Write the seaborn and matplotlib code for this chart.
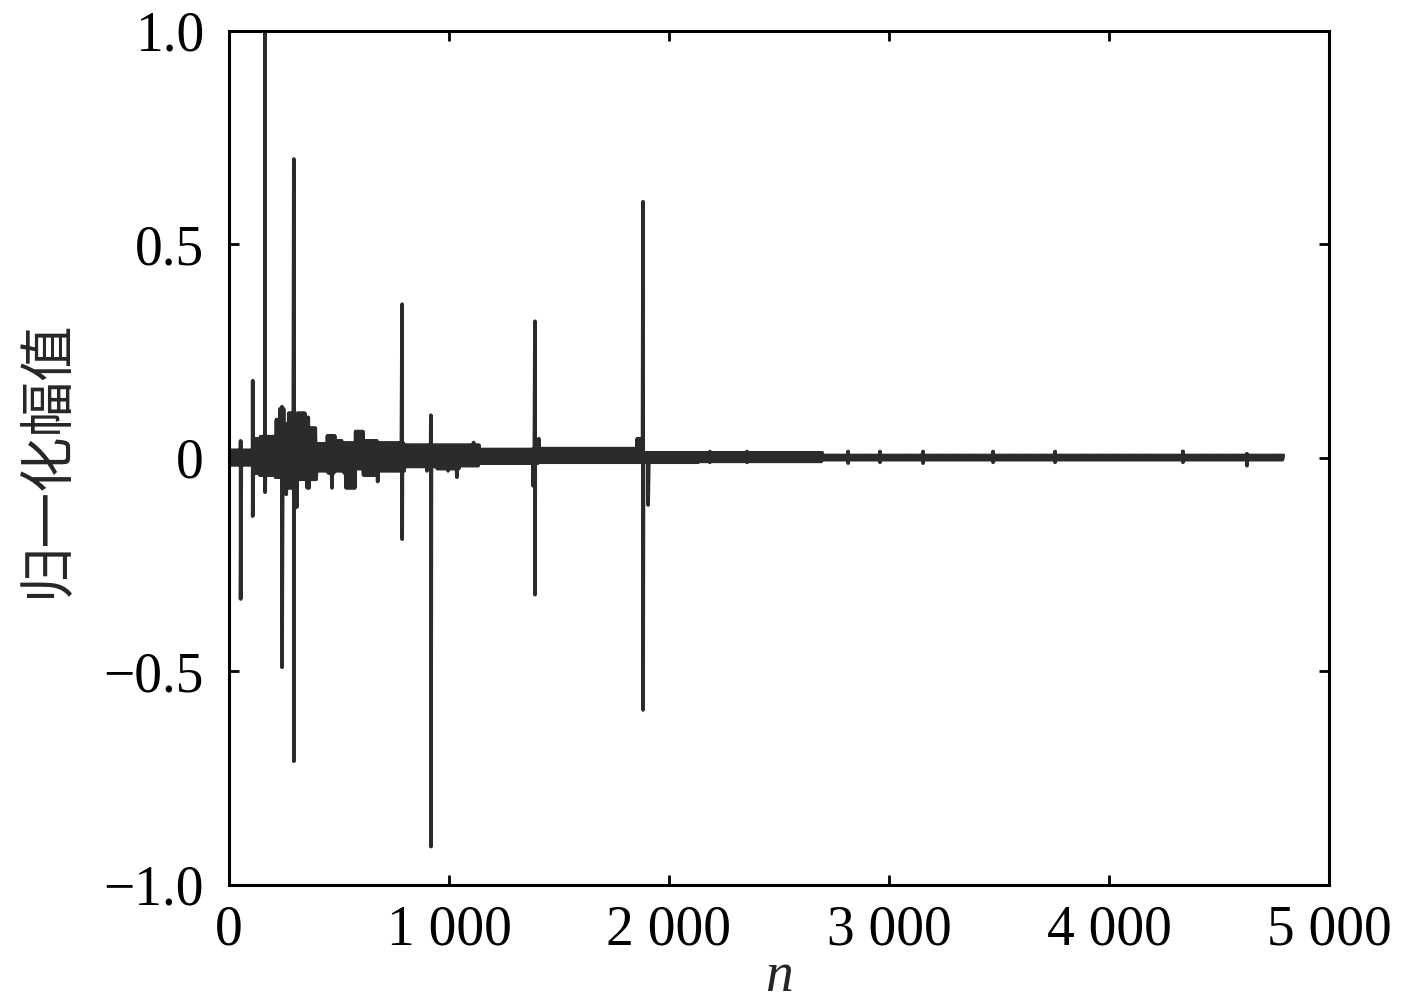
import numpy as np
import pandas as pd
import matplotlib.pyplot as plt
import seaborn as sns

# envelope of the dense ripple: block start (n), upper and lower edge
band_n = [0, 110, 138, 209, 232, 255, 268, 296, 310, 323, 350, 368, 400, 405, 412,
          445, 463, 470, 482, 520, 526, 573, 609, 670, 678, 800, 898, 904, 945, 994,
          1000, 1030, 1037, 1050, 1108, 1116, 1140, 1238, 1244, 1368, 1405, 1416, 1427,
          1855, 1876, 1905, 2140, 2700, 4795]
band_hi = [0.018, 0.045, 0.05, 0.09, 0.115, 0.08, 0.105, 0.10, 0.105, 0.105, 0.095, 0.07, 0.033, 0.033, 0.033,
           0.052, 0.052, 0.052, 0.04, 0.035, 0.035, 0.062, 0.04, 0.04, 0.035, 0.03, 0.03, 0.03, 0.03, 0.03,
           0.03, 0.03, 0.03, 0.03, 0.036, 0.03, 0.02, 0.02, 0.02, 0.02, 0.045, 0.022, 0.022,
           0.045, 0.012, 0.012, 0.012, 0.006, 0.006]
band_lo = [-0.016, -0.035, -0.04, -0.045, -0.045, -0.085, -0.07, -0.115, -0.05, -0.05, -0.07, -0.05, -0.03, -0.08, -0.03,
           -0.035, -0.07, -0.035, -0.03, -0.035, -0.07, -0.025, -0.04, -0.055, -0.03, -0.02, -0.03, -0.02, -0.025, -0.03,
           -0.025, -0.045, -0.025, -0.018, -0.018, -0.018, -0.012, -0.028, -0.012, -0.012, -0.01, -0.01, -0.01,
           -0.01, -0.01, -0.01, -0.008, -0.004, -0.004]

# isolated spikes: position, positive and negative peak
spike_n = [53, 108, 164, 241, 295, 787, 918, 1382, 1391, 1882, 1905,
           2186, 2355, 2814, 2959, 3155, 3473, 3755, 4336, 4627]
spike_hi = [0.04, 0.18, 1.0, 0.12, 0.70, 0.36, 0.10, 0.02, 0.32, 0.60, 0.0,
            0.015, 0.015, 0.015, 0.015, 0.015, 0.015, 0.015, 0.015, 0.01]
spike_lo = [-0.33, -0.136, -0.08, -0.49, -0.71, -0.19, -0.91, -0.065, -0.32, -0.59, -0.11,
            -0.01, -0.01, -0.012, -0.01, -0.012, -0.01, -0.01, -0.01, -0.018]

x_ticks = [0, 1000, 2000, 3000, 4000, 5000]
x_labels = ["0", "1 000", "2 000", "3 000", "4 000", "5 000"]
y_ticks = [-1.0, -0.5, 0, 0.5, 1.0]
y_labels = ["\u22121.0", "\u22120.5", "0", "0.5", "1.0"]

# trace: ripple sampled every 4 points, alternating between the block edges
n = np.arange(0, band_n[-1] + 1, 4)
blk = np.clip(np.searchsorted(band_n, n, side="right") - 1, 0, len(band_hi) - 1)
amp = np.where(np.arange(len(n)) % 2 == 0, np.array(band_hi)[blk], np.array(band_lo)[blk])
trace = pd.DataFrame({"n": n, "amp": amp})
spk = pd.DataFrame({"n": np.repeat(spike_n, 2),
                    "amp": np.ravel(np.column_stack([spike_hi, spike_lo]))})
trace = pd.concat([trace, spk]).sort_values("n", kind="mergesort").reset_index(drop=True)

sns.set_style("ticks")
plt.rcParams["font.family"] = ["Liberation Serif", "Noto Sans CJK SC"]
plt.rcParams["axes.unicode_minus"] = True

fig = plt.figure(figsize=(14.17, 10.06), dpi=100)
ax = fig.add_axes([0.1616, 0.1203, 0.7763, 0.8489])
sns.lineplot(data=trace, x="n", y="amp", estimator=None, sort=False,
             color="#2b2b2b", linewidth=2.7, ax=ax)

ax.set_xlim(0, 5000)
ax.set_ylim(-1.0, 1.0)
ax.set_xticks(x_ticks)
ax.set_xticklabels(x_labels)
ax.set_yticks(y_ticks)
ax.set_yticklabels(y_labels)
ax.tick_params(direction="in", top=True, right=True, length=7, width=2,
               labelsize=40, color="black", labelcolor="black")
ax.tick_params(axis="x", pad=14)
ax.tick_params(axis="y", pad=18)
for s in ax.spines.values():
    s.set_linewidth(2.2)
    s.set_color("black")
    s.set_visible(True)

ax.set_xlabel("n", fontsize=40, fontstyle="italic", labelpad=-4)
ax.set_ylabel("归一化幅值", fontsize=40, family=["Noto Sans CJK SC"], labelpad=20)

fig.savefig("out.png", dpi=100)
